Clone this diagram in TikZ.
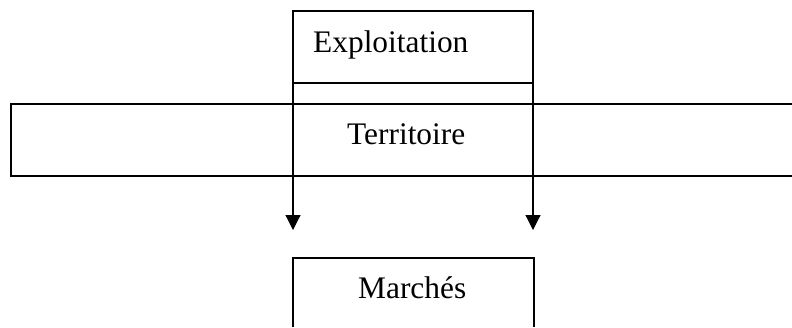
\documentclass[tikz,border=0pt]{standalone}
\usepackage{fontspec}
\setmainfont{Liberation Serif}
\usetikzlibrary{arrows.meta}
\begin{document}
\begin{tikzpicture}[x=1bp,y=-1bp,
  frame/.style={line width=1.2bp,draw=black},
  label/.style={anchor=base west,inner sep=0pt,font=\fontsize{31.5}{36}\selectfont},
  flow/.style={line width=1.2bp,-{Triangle[length=15bp,width=15bp]}}]
  \useasboundingbox (0,0) rectangle (792,327);
  % boxes
  \draw[frame] (293,11) rectangle (533,83);
  \draw[frame] (792,104) -- (11,104) -- (11,176) -- (792,176);
  \draw[frame] (293,327) -- (293,258) -- (534,258) -- (534,327);
  % texts
  \node[label] (exp) at (313,52) {Exploitation};
  \node[label] (ter) at (347,144) {Territoire};
  \node[label] (mar) at (358,298) {Marchés};
  % connectors
  \coordinate (exl) at (293,83);
  \coordinate (exr) at (533,83);
  \coordinate (al) at (293,230);
  \coordinate (ar) at (533,230);
  \draw[flow] (exl) -- (al);
  \draw[flow] (exr) -- (ar);
\end{tikzpicture}
\end{document}
